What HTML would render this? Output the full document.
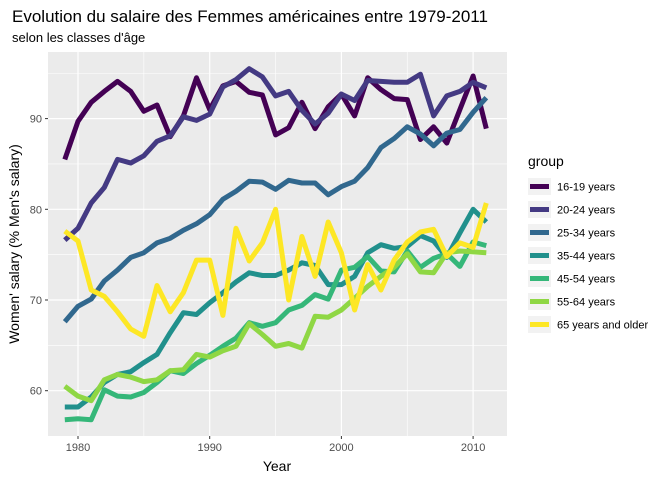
<!DOCTYPE html>
<html><head><meta charset="utf-8"><style>
body{margin:0;background:#fff;font-family:"Liberation Sans",sans-serif;}
svg text{font-family:"Liberation Sans",sans-serif;}
</style></head><body>
<svg id="chart" width="672" height="480" viewBox="0 0 672 480">
<text x="12" y="22" font-size="17" fill="#000">Evolution du salaire des Femmes américaines entre 1979-2011</text>
<text x="12" y="42" font-size="13" fill="#000">selon les classes d'âge</text>
<rect x="48" y="52" width="459" height="384" fill="#ebebeb"/>
<g id="grid"></g>
<g id="series"></g>
<g id="axes"></g>
<text x="277" y="471" font-size="14" text-anchor="middle" fill="#000">Year</text>
<text transform="translate(19,244) rotate(-90)" font-size="14" text-anchor="middle" fill="#000">Women' salary (% Men's salary)</text>
<g id="legend">
<text x="528" y="166" font-size="14" fill="#000">group</text>
</g>
</svg>
<script>
const years = [];
for (let y = 1979; y <= 2011; y++) years.push(y);
const groups = ["16-19 years","20-24 years","25-34 years","35-44 years","45-54 years","55-64 years","65 years and older"];
const colors = ["#440154","#443A83","#31688E","#21908C","#35B779","#8FD744","#FDE725"];
const s1619 = [85.5,89.7,91.8,93.0,94.1,93.0,90.8,91.5,88.0,90.3,94.5,91.0,93.6,94.1,92.9,92.6,88.2,89.0,91.8,88.9,91.3,92.7,90.3,94.5,93.2,92.2,92.1,87.7,89.1,87.3,91.0,94.7,88.9];
const s2024 = [76.6,77.9,80.7,82.4,85.5,85.1,85.9,87.5,88.1,90.2,89.8,90.5,93.5,94.3,95.5,94.6,92.5,93.0,90.9,89.4,90.6,92.7,92.0,94.2,94.1,94.0,94.0,94.9,90.3,92.5,93.0,94.0,93.4];
const s2534 = [67.6,69.3,70.1,72.1,73.3,74.7,75.2,76.3,76.8,77.7,78.4,79.4,81.1,82.0,83.1,83.0,82.2,83.2,82.9,82.9,81.6,82.5,83.1,84.6,86.8,87.8,89.1,88.3,87.0,88.4,88.8,90.7,92.3];
const s3544 = [58.2,58.2,59.3,60.9,61.8,62.1,63.1,64.0,66.4,68.6,68.4,69.7,70.8,72.0,73.0,72.7,72.7,73.3,74.1,73.8,71.7,71.7,72.6,75.2,76.1,75.7,75.9,77.1,76.5,74.7,77.4,80.0,78.6];
const s4554 = [56.8,56.9,56.8,60.1,59.4,59.3,59.8,60.9,62.2,61.9,63.0,63.9,64.9,65.8,67.5,67.1,67.5,68.9,69.4,70.6,70.1,73.3,73.6,74.8,73.2,73.1,75.4,73.6,74.6,75.1,73.7,76.4,76.0];
const s5564 = [60.5,59.4,58.9,61.2,61.8,61.5,61.0,61.2,62.2,62.3,64.0,63.7,64.4,64.9,67.4,66.2,64.9,65.2,64.7,68.2,68.1,68.9,70.2,71.5,72.6,73.6,75.1,73.1,73.0,75.2,75.4,75.3,75.2];
const s65 = [77.6,76.5,71.1,70.4,68.7,66.8,66.0,71.6,68.7,70.8,74.4,74.4,68.3,77.9,74.3,76.3,80.0,70.0,77.0,72.6,78.6,75.2,68.9,73.9,71.1,74.4,76.4,77.5,77.8,74.8,76.3,75.8,80.7];
const yTicks = [60,70,80,90];
const yMinor = [55,65,75,85,95];
const xTicks = [1980,1990,2000,2010];
const xMinor = [1985,1995,2005];

const allSeries = [s1619,s2024,s2534,s3544,s4554,s5564,s65];
const NS = "http://www.w3.org/2000/svg";
const X = yr => 78 + (yr - 1980) * 13.17;
const Y = v => 390.7 - (v - 60) * 9.07;
function mk(tag, attrs, parent) {
  const e = document.createElementNS(NS, tag);
  for (const k in attrs) e.setAttribute(k, attrs[k]);
  parent.appendChild(e);
  return e;
}
const grid = document.getElementById("grid");
const axes = document.getElementById("axes");
yMinor.forEach(v => {
  if (Y(v) < 52 || Y(v) > 436) return;
  const l = mk("line", {x1:48, x2:507, y1:Y(v), y2:Y(v), stroke:"#fff", "stroke-width":0.6}, grid);
  
  
});
xMinor.forEach(v => {
  const l = mk("line", {x1:X(v), x2:X(v), y1:52, y2:436, stroke:"#fff", "stroke-width":0.6}, grid);
  
  
});
yTicks.forEach(v => {
  const l = mk("line", {x1:48, x2:507, y1:Y(v), y2:Y(v), stroke:"#fff", "stroke-width":1.2}, grid);
  
  
  const t = mk("line", {x1:45, x2:48, y1:Y(v), y2:Y(v), stroke:"#333", "stroke-width":1}, axes);
  
  
  const tx = mk("text", {x:42, y:Y(v)+4, "font-size":11, "text-anchor":"end", fill:"#4d4d4d"}, axes);
  tx.textContent = v;
  
  
});
xTicks.forEach(v => {
  const l = mk("line", {x1:X(v), x2:X(v), y1:52, y2:436, stroke:"#fff", "stroke-width":1.2}, grid);
  
  
  const t = mk("line", {x1:X(v), x2:X(v), y1:436, y2:439, stroke:"#333", "stroke-width":1}, axes);
  
  
  const tx = mk("text", {x:X(v), y:451, "font-size":11, "text-anchor":"middle", fill:"#4d4d4d"}, axes);
  tx.textContent = v;
  
  
});
const series = document.getElementById("series");
allSeries.forEach((s, i) => {
  const d = s.map((v, j) => (j ? "L" : "M") + X(years[j]).toFixed(1) + "," + Y(v).toFixed(1)).join(" ");
  const p = mk("path", {d:d, fill:"none", stroke:colors[i], "stroke-width":5, "stroke-linejoin":"round"}, series);
  
  
});
const legend = document.getElementById("legend");
groups.forEach((g, i) => {
  const y0 = 178 + i * 23;
  const bg = mk("rect", {x:528, y:y0, width:23, height:17, fill:"#f2f2f2"}, legend);
  
  
  const l = mk("line", {x1:530, x2:549, y1:y0+8.5, y2:y0+8.5, stroke:colors[i], "stroke-width":5}, legend);
  
  
  const t = mk("text", {x:557, y:y0+12.5, "font-size":11, fill:"#000"}, legend);
  t.textContent = g;
  
  
});
</script>
</body></html>
